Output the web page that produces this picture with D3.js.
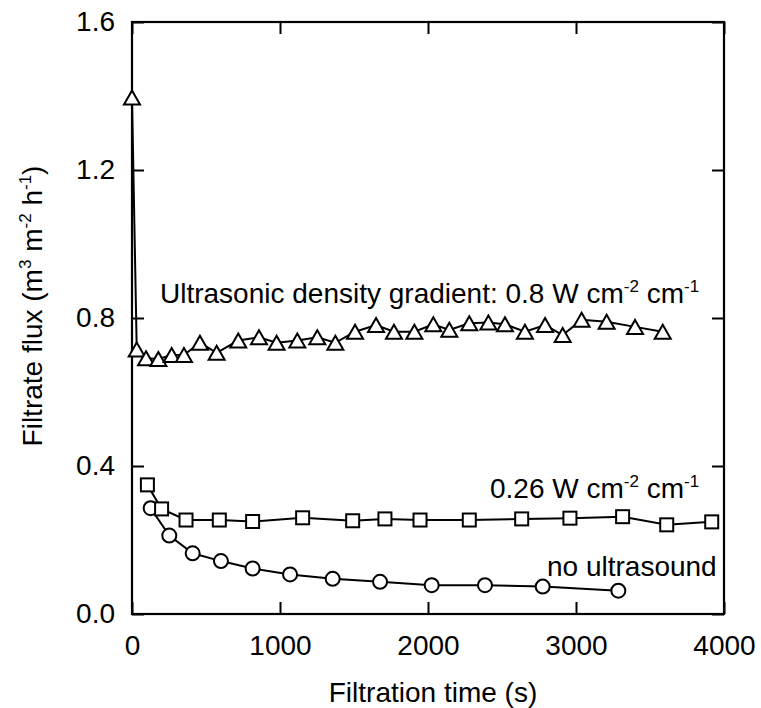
<!DOCTYPE html>
<html>
<head>
<meta charset="utf-8">
<script src="https://cdn.jsdelivr.net/npm/d3@7"></script>
<style>
  html, body { margin: 0; padding: 0; background: #fff; }
  svg text { font-family: "Liberation Sans", Arial, sans-serif; fill: #000; }
</style>
</head>
<body>
<svg id="chart" width="761" height="708"></svg>
<script>
// ---- data ----
const triTime = [0, 32, 95, 178, 268, 351, 459, 572, 718, 858, 977, 1117, 1252, 1374, 1507, 1649, 1770, 1908, 2036, 2144, 2279, 2408, 2520, 2655, 2791, 2910, 3038, 3207, 3399, 3586];
const triFlux = [1.396, 0.715, 0.691, 0.689, 0.700, 0.700, 0.733, 0.706, 0.739, 0.748, 0.733, 0.739, 0.748, 0.733, 0.763, 0.781, 0.763, 0.763, 0.783, 0.768, 0.786, 0.788, 0.783, 0.763, 0.781, 0.754, 0.795, 0.790, 0.776, 0.763];

const sqTime = [104, 200, 365, 590, 815, 1153, 1491, 1709, 1946, 2279, 2633, 2959, 3315, 3613, 3917];
const sqFlux = [0.349, 0.284, 0.254, 0.254, 0.250, 0.260, 0.252, 0.257, 0.254, 0.254, 0.257, 0.259, 0.263, 0.241, 0.249];

const ciTime = [126, 252, 410, 601, 815, 1068, 1356, 1676, 2025, 2385, 2775, 3286];
const ciFlux = [0.286, 0.212, 0.164, 0.143, 0.123, 0.107, 0.095, 0.087, 0.078, 0.078, 0.074, 0.063];

const xTicks = [0, 1000, 2000, 3000, 4000];
const yTicks = [0, 0.4, 0.8, 1.2, 1.6];

// ---- layout ----
const svg = d3.select("#chart");
const x = d3.scaleLinear().domain([0, 4000]).range([132, 724]);
const y = d3.scaleLinear().domain([0, 1.6]).range([614, 22]);
const FS = 28;
const SUP = 17;

// axes with inward ticks
const gx = svg.append("g").attr("transform", `translate(0,${y(0)})`)
  .call(d3.axisBottom(x).tickValues(xTicks).tickFormat(d3.format("d")).tickSizeInner(-12).tickSizeOuter(0).tickPadding(21));
const gxTop = svg.append("g").attr("transform", `translate(0,${y(1.6)})`)
  .call(d3.axisTop(x).tickValues(xTicks).tickFormat("").tickSizeInner(-12).tickSizeOuter(0));
const gy = svg.append("g").attr("transform", `translate(${x(0)},0)`)
  .call(d3.axisLeft(y).tickValues(yTicks).tickFormat(d3.format(".1f")).tickSizeInner(-12).tickSizeOuter(0).tickPadding(17));
const gyR = svg.append("g").attr("transform", `translate(${x(4000)},0)`)
  .call(d3.axisRight(y).tickValues(yTicks).tickFormat("").tickSizeInner(-12).tickSizeOuter(0));

[gx, gy].forEach(g => {
  g.selectAll(".tick text").attr("font-size", FS).attr("font-family", "Liberation Sans, Arial, sans-serif").attr("fill", "#000");
});
[gxTop, gyR].forEach(g => g.selectAll(".tick text").remove());
[gx, gxTop, gy, gyR].forEach(g => {
  g.select(".domain").remove();
  g.selectAll(".tick line").attr("stroke", "#000").attr("stroke-width", 2);
});

// frame
svg.append("rect")
  .attr("x", x(0)).attr("y", y(1.6))
  .attr("width", x(4000) - x(0)).attr("height", y(0) - y(1.6))
  .attr("fill", "none").attr("stroke", "#000").attr("stroke-width", 2.2);

// axis titles
svg.append("text")
  .attr("x", 433).attr("y", 702)
  .attr("text-anchor", "middle").attr("font-size", FS)
  .text("Filtration time (s)");

function addSup(t, parts) {
  let pendingDy = 0;
  parts.forEach(p => {
    const ts = t.append("tspan").text(p.s);
    if (p.sup) {
      ts.attr("dy", pendingDy - 11).attr("font-size", SUP);
      pendingDy = 11;
    } else if (pendingDy) {
      ts.attr("dy", pendingDy);
      pendingDy = 0;
    }
  });
}

const yt = svg.append("text")
  .attr("transform", "translate(42,306) rotate(-90)")
  .attr("text-anchor", "middle").attr("font-size", FS);
addSup(yt, [{s: "Filtrate flux (m"}, {s: "3", sup: true}, {s: " m"}, {s: "-2", sup: true}, {s: " h"}, {s: "-1", sup: true}, {s: ")"}]);

// annotations
const a1 = svg.append("text").attr("x", 160).attr("y", 303).attr("font-size", FS);
addSup(a1, [{s: "Ultrasonic density gradient: 0.8 W cm"}, {s: "-2", sup: true}, {s: " cm"}, {s: "-1", sup: true}]);
const a2 = svg.append("text").attr("x", 490).attr("y", 498).attr("font-size", FS);
addSup(a2, [{s: "0.26 W cm"}, {s: "-2", sup: true}, {s: " cm"}, {s: "-1", sup: true}]);
svg.append("text").attr("x", 547).attr("y", 576).attr("font-size", FS).text("no ultrasound");

// series
const line = d3.line().x(d => x(d[0])).y(d => y(d[1]));
function series(times, vals) { return times.map((t, i) => [t, vals[i]]); }
const tri = series(triTime, triFlux);
const sq = series(sqTime, sqFlux);
const ci = series(ciTime, ciFlux);

[ci, sq, tri].forEach(data => {
  svg.append("path").datum(data).attr("d", line)
    .attr("fill", "none").attr("stroke", "#000").attr("stroke-width", 2);
});

// markers
svg.append("g").selectAll("circle").data(ci).join("circle")
  .attr("cx", d => x(d[0])).attr("cy", d => y(d[1])).attr("r", 7)
  .attr("fill", "#fff").attr("stroke", "#000").attr("stroke-width", 2);

svg.append("g").selectAll("rect").data(sq).join("rect")
  .attr("x", d => x(d[0]) - 6.5).attr("y", d => y(d[1]) - 6.5)
  .attr("width", 13).attr("height", 13)
  .attr("fill", "#fff").attr("stroke", "#000").attr("stroke-width", 2);

svg.append("g").selectAll("path").data(tri).join("path")
  .attr("transform", d => `translate(${x(d[0])},${y(d[1])})`)
  .attr("d", "M0,-7L8,7L-8,7Z")
  .attr("fill", "#fff").attr("stroke", "#000").attr("stroke-width", 2).attr("stroke-linejoin", "miter");
</script>
</body>
</html>
